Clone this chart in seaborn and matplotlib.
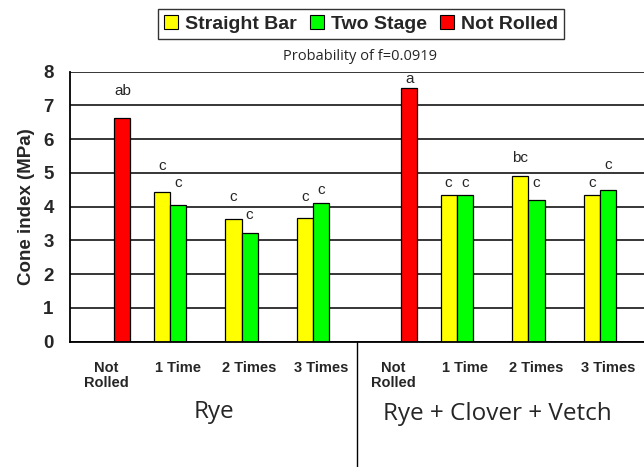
import matplotlib
matplotlib.use("Agg")
import matplotlib.pyplot as plt
import seaborn as sns
import pandas as pd
import numpy as np
from matplotlib.patches import Patch
from matplotlib.transforms import blended_transform_factory

# ---------------- data ----------------
groups = ["Rye", "Rye + Clover + Vetch"]
treatments = ["Not\nRolled", "1 Time", "2 Times", "3 Times"]
series = ["Straight Bar", "Two Stage", "Not Rolled"]
colors = ["#FFFF00", "#00FF00", "#FF0000"]

straight_bar = [np.nan, 4.45, 3.64, 3.67, np.nan, 4.35, 4.90, 4.35]
two_stage = [np.nan, 4.05, 3.23, 4.12, np.nan, 4.35, 4.19, 4.49]
not_rolled = [6.62, np.nan, np.nan, np.nan, 7.51, np.nan, np.nan, np.nan]

letters_straight = ["", "c", "c", "c", "", "c", "bc", "c"]
letters_two = ["", "c", "c", "c", "", "c", "c", "c"]
letters_not = ["ab", "", "", "", "a", "", "", ""]
letter_y_straight = [0, 5.22, 4.29, 4.29, 0, 4.70, 5.44, 4.70]
letter_y_two = [0, 4.69, 3.76, 4.50, 0, 4.70, 4.70, 5.23]
letter_y_not = [7.42, 0, 0, 0, 7.79, 0, 0, 0]

title = "Probability of f=0.0919"
ylabel = "Cone index (MPa)"

# ---------------- frame ----------------
cat_keys = [f"{g}|{t}" for g in groups for t in treatments]
cat_labels = [t for g in groups for t in treatments]
rows = []
for s, vals in zip(series, [straight_bar, two_stage, not_rolled]):
    for k, v in zip(cat_keys, vals):
        if not np.isnan(v):
            rows.append({"cat": k, "series": s, "value": v})
df = pd.DataFrame(rows)
letters = dict(zip(series, [letters_straight, letters_two, letters_not]))
letter_y = dict(zip(series, [letter_y_straight, letter_y_two, letter_y_not]))

sns.set_style("white")
plt.rcParams["font.family"] = ["Liberation Sans", "DejaVu Sans"]

W, H = 644, 467
fig = plt.figure(figsize=(W / 100, H / 100), dpi=100)
ax_left, ax_bottom = 70.4, 341.7
ax_top = 71.7
cat_px = 72.4
ax = fig.add_axes([ax_left / W, (H - ax_bottom) / H, (W - ax_left) / W, (ax_bottom - ax_top) / H])

sns.barplot(data=df, x="cat", y="value", hue="series", order=cat_keys,
            hue_order=series, palette=colors, width=0.675, dodge=True,
            edgecolor="black", linewidth=0.9, saturation=1, ax=ax,
            errorbar=None, legend=False)

ax.set_xlim(-0.5, -0.5 + (W - ax_left) / cat_px)
ax.set_ylim(0, 8)
ax.set_axisbelow(True)
ax.yaxis.grid(True, color="black", linewidth=1.1)
ax.xaxis.grid(False)
for sp in ["top", "right"]:
    ax.spines[sp].set_visible(False)
for sp in ["left", "bottom"]:
    ax.spines[sp].set_color("black")
    ax.spines[sp].set_linewidth(1.3)

ax.set_yticks(range(0, 9))
ax.set_yticklabels([str(i) for i in range(0, 9)], fontsize=13.5, fontweight="bold")
ax.tick_params(axis="y", which="major", length=7, width=1, direction="out", color="black", pad=5)

ax.set_xticks(range(len(cat_keys)))
ax.set_xticklabels(cat_labels, fontsize=10.5, fontweight="bold", linespacing=1.05)
ax.tick_params(axis="x", which="major", length=0, pad=14)
ax.set_xticks(np.arange(-0.5, len(cat_keys) - 0.4, 1), minor=True)
ax.tick_params(axis="x", which="minor", length=5, width=1, direction="out", color="black")

ax.set_xlabel("")
ax.set_ylabel(ylabel, fontsize=13.5, fontweight="bold", labelpad=6)

# letters above bars
for s, cont in zip(series, ax.containers):
    for p in cont.patches:
        if np.isnan(p.get_height()) or p.get_height() == 0:
            continue
        cx = p.get_x() + p.get_width() / 2
        ci = int(round(cx))
        txt = letters[s][ci]
        if txt:
            ax.text(cx, letter_y[s][ci], txt, ha="center", va="center", fontsize=11)

# group separator and group labels
trans = blended_transform_factory(ax.transData, ax.transAxes)
ax.plot([3.5, 3.5], [0, -0.6], color="black", linewidth=1, transform=trans, clip_on=False)
casual = ["Open Sans", "DejaVu Sans"]
ax.text(1.5, -0.26, groups[0], transform=trans, ha="center", va="center",
        fontsize=17.5, family=casual)
ax.text(5.45, -0.267, groups[1], transform=trans, ha="center", va="center",
        fontsize=17.5, family=casual)

# title
fig.text(360 / W, 1 - 57 / H, title, ha="center", va="center", fontsize=10.5, family=casual)

# legend
handles = [Patch(facecolor=c, edgecolor="black", linewidth=0.8) for c in colors]
leg = fig.legend(handles, series, loc="center", bbox_to_anchor=(361 / W, 1 - 24 / H),
                 ncol=3, frameon=True, fancybox=False, edgecolor="black",
                 prop={"weight": "bold", "size": 14}, handlelength=0.7,
                 handleheight=0.7, handletextpad=0.35, columnspacing=0.7,
                 borderpad=0.3, borderaxespad=0)
leg.get_frame().set_linewidth(1.0)

fig.savefig("out.png", dpi=100)
